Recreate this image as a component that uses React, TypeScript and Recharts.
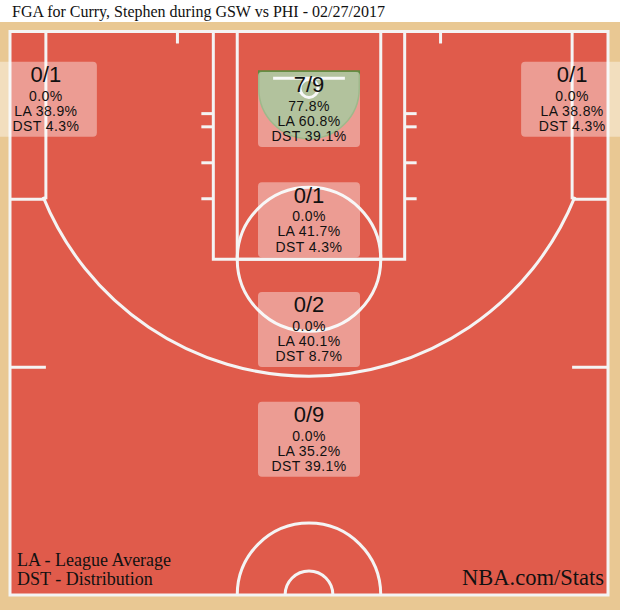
import React from "react";
import {
  ComposedChart,
  Scatter,
  XAxis,
  YAxis,
  ReferenceArea,
  ReferenceLine,
} from "recharts";

// shot zones, court units are tenths of a foot with the rim at (0, 0)
const zoneNames = [
  "Left Corner 3",
  "Right Corner 3",
  "Restricted Area",
  "In The Paint (Non-RA)",
  "Mid-Range",
  "Above the Break 3",
];
const zoneMade = [0, 0, 7, 0, 0, 0];
const zoneAttempts = [1, 1, 9, 1, 2, 9];
const leagueAvg = [38.9, 38.8, 60.8, 41.7, 40.1, 35.2];
const distribution = [4.3, 4.3, 39.1, 4.3, 8.7, 39.1];
const zoneX = [-220, 220, 0, 0, 0, 0];
const zoneY = [9, 9, 17.5, 109.5, 201, 292.5];

const TITLE = "FGA for Curry, Stephen during GSW vs PHI - 02/27/2017";

const RED = "#e05b4b";
const WOOD = "#e9c893";
const LINE = "#f4f4f4";
const GREEN = "#7f9a5c";
const SERIF = "'Liberation Serif', 'Times New Roman', serif";
const SANS = "'Liberation Sans', Arial, Helvetica, sans-serif";

const zones = zoneNames.map((name, i) => ({
  name,
  x: zoneX[i],
  y: zoneY[i],
  frac: `${zoneMade[i]}/${zoneAttempts[i]}`,
  pct: ((zoneMade[i] / zoneAttempts[i]) * 100).toFixed(1),
  la: leagueAvg[i].toFixed(1),
  dst: distribution[i].toFixed(1),
}));

const lineProps = { stroke: LINE, strokeWidth: 3, ifOverflow: "visible" as const };

// full circle drawn inside the area's bounding box
const CircleShape = (p: any) => (
  <ellipse
    cx={p.x + p.width / 2}
    cy={p.y + p.height / 2}
    rx={Math.abs(p.width) / 2}
    ry={Math.abs(p.height) / 2}
    fill="none"
    stroke={LINE}
    strokeWidth={3}
  />
);

// upper half only (half court circles)
const UpperHalfShape = (p: any) => {
  const cx = p.x + p.width / 2;
  const cy = p.y + p.height / 2;
  const rx = p.width / 2;
  const ry = p.height / 2;
  return (
    <path
      d={`M${cx - rx},${cy} A${rx},${ry} 0 0 1 ${cx + rx},${cy}`}
      fill="none"
      stroke={LINE}
      strokeWidth={3}
    />
  );
};

// three point arc between the corner lines
const ThreeArcShape = (p: any) => {
  const cx = p.x + p.width / 2;
  const cy = p.y + p.height / 2;
  const s = p.width / 475;
  const sy = p.height / 475;
  return (
    <path
      d={`M${cx - 220 * s},${cy + 89.5 * sy} A${p.width / 2},${p.height / 2} 0 0 0 ${cx + 220 * s},${cy + 89.5 * sy}`}
      fill="none"
      stroke={LINE}
      strokeWidth={3}
    />
  );
};

// restricted area zone fill
const RestrictedShape = (p: any) => {
  const cx = p.x + p.width / 2;
  const cy = p.y + p.height / 2;
  const rx = p.width / 2;
  const ry = p.height / 2;
  const top = cy - 14.5 * (p.height / 84);
  return (
    <path
      d={`M${cx - rx},${top} L${cx - rx},${cy} A${rx},${ry} 0 0 0 ${cx + rx},${cy} L${cx + rx},${top} Z`}
      fill={GREEN}
      stroke="#5e8a3e"
      strokeWidth={1.5}
    />
  );
};

const ZoneLabel = (p: any) => {
  const { cx, cy, payload } = p;
  const top = cy - 37.5;
  return (
    <g fontFamily={SANS} fill="#111" textAnchor="middle">
      <rect x={cx - 51} y={top} width={102} height={75} rx={4} fill="#fff" fillOpacity={0.4} />
      <text x={cx} y={top + 20.5} fontSize={22}>{payload.frac}</text>
      <text x={cx} y={top + 39} fontSize={14} letterSpacing={0.4}>{payload.pct}%</text>
      <text x={cx} y={top + 54} fontSize={14} letterSpacing={0.4}>LA {payload.la}%</text>
      <text x={cx} y={top + 69.5} fontSize={14} letterSpacing={0.4}>DST {payload.dst}%</text>
    </g>
  );
};

export default function App() {
  return (
    <div
      style={{
        position: "absolute",
        left: 0,
        top: 0,
        width: 620,
        height: 610,
        background: "#fff",
        overflow: "hidden",
      }}
    >
      <div style={{ position: "absolute", left: 0, top: 22, width: 620, height: 588, background: WOOD }} />
      <div style={{ position: "absolute", left: 0, top: 0 }}>
        <ComposedChart
          width={620}
          height={610}
          data={zones}
          margin={{ top: 31.5, right: 12, bottom: 15, left: 10 }}
        >
          <XAxis type="number" dataKey="x" domain={[-250, 250]} hide />
          <YAxis type="number" dataKey="y" domain={[-47.5, 422.5]} reversed hide />

          {/* court floor and paint */}
          <ReferenceArea x1={-250} x2={250} y1={-47.5} y2={422.5} fill={RED} fillOpacity={1} stroke={LINE} strokeWidth={3} ifOverflow="visible" />
          <ReferenceArea x1={-42} x2={42} y1={-42} y2={42} ifOverflow="visible" shape={RestrictedShape} />
          <ReferenceArea x1={-80} x2={80} y1={-47.5} y2={142.5} fill="none" stroke={LINE} strokeWidth={3} ifOverflow="visible" />
          <ReferenceArea x1={-60} x2={60} y1={-47.5} y2={142.5} fill="none" stroke={LINE} strokeWidth={3} ifOverflow="visible" />
          <ReferenceArea x1={-60} x2={60} y1={82.5} y2={202.5} ifOverflow="visible" shape={CircleShape} />
          <ReferenceArea x1={-240} x2={240} y1={-240} y2={240} ifOverflow="visible" shape={ThreeArcShape} />
          <ReferenceArea x1={-7.5} x2={7.5} y1={-7.5} y2={7.5} ifOverflow="visible" shape={CircleShape} />
          <ReferenceArea x1={-60} x2={60} y1={362.5} y2={482.5} ifOverflow="visible" shape={UpperHalfShape} />
          <ReferenceArea x1={-20} x2={20} y1={402.5} y2={442.5} ifOverflow="visible" shape={UpperHalfShape} />

          {/* corner three lines */}
          <ReferenceLine segment={[{ x: -220, y: -47.5 }, { x: -220, y: 92.5 }]} {...lineProps} />
          <ReferenceLine segment={[{ x: 220, y: -47.5 }, { x: 220, y: 92.5 }]} {...lineProps} />
          <ReferenceLine segment={[{ x: -250, y: 92.5 }, { x: -220, y: 92.5 }]} {...lineProps} />
          <ReferenceLine segment={[{ x: 220, y: 92.5 }, { x: 250, y: 92.5 }]} {...lineProps} />
          {/* backboard */}
          <ReferenceLine segment={[{ x: -30, y: -8.5 }, { x: 30, y: -8.5 }]} {...lineProps} />
          {/* baseline ticks */}
          <ReferenceLine segment={[{ x: -110, y: -47.5 }, { x: -110, y: -37.5 }]} {...lineProps} />
          <ReferenceLine segment={[{ x: 110, y: -47.5 }, { x: 110, y: -37.5 }]} {...lineProps} />
          {/* sideline marks */}
          <ReferenceLine segment={[{ x: -250, y: 232.5 }, { x: -220, y: 232.5 }]} {...lineProps} />
          <ReferenceLine segment={[{ x: 220, y: 232.5 }, { x: 250, y: 232.5 }]} {...lineProps} />
          {/* lane hash marks */}
          {[21, 32, 62, 92].map((h) => (
            <ReferenceLine key={`l${h}`} segment={[{ x: -90, y: h }, { x: -80, y: h }]} {...lineProps} />
          ))}
          {[21, 32, 62, 92].map((h) => (
            <ReferenceLine key={`r${h}`} segment={[{ x: 80, y: h }, { x: 90, y: h }]} {...lineProps} />
          ))}

          <Scatter dataKey="y" data={zones} shape={ZoneLabel} isAnimationActive={false} />
        </ComposedChart>
      </div>
      <svg
        width={620}
        height={610}
        style={{ position: "absolute", left: 0, top: 0, pointerEvents: "none" }}
      >
        <text x={12} y={17} fontFamily={SERIF} fontSize={16} fill="#111">{TITLE}</text>
        <text x={17} y={566} fontFamily={SERIF} fontSize={18} fill="#111">LA - League Average</text>
        <text x={17} y={585} fontFamily={SERIF} fontSize={18} fill="#111">DST - Distribution</text>
        <text x={604} y={585} fontFamily={SERIF} fontSize={22.5} textAnchor="end" fill="#111">NBA.com/Stats</text>
      </svg>
    </div>
  );
}
